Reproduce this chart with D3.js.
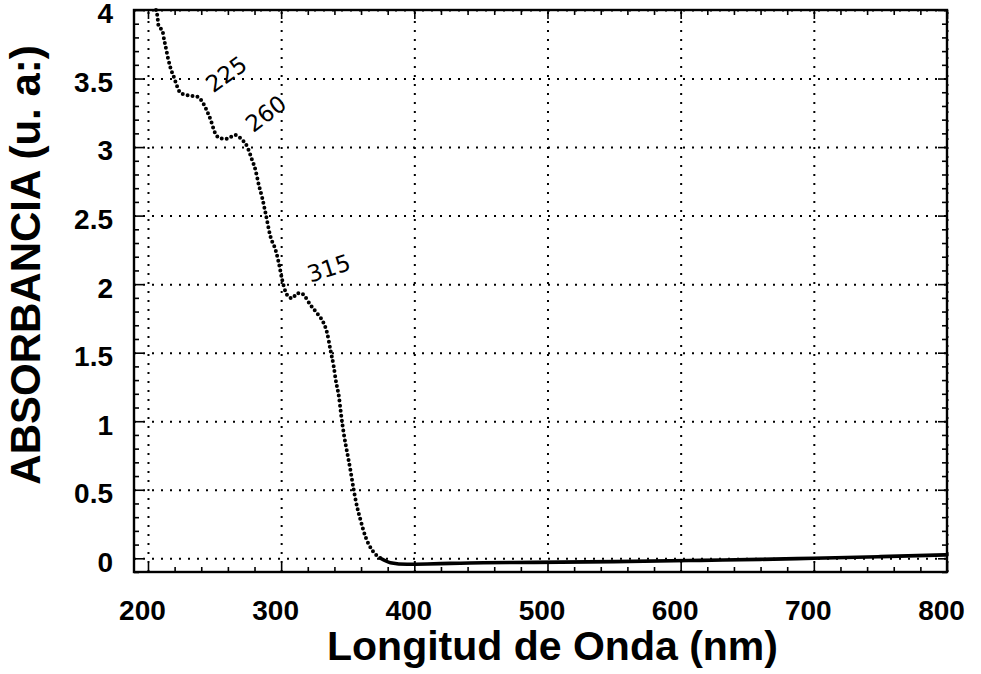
<!DOCTYPE html>
<html>
<head>
<meta charset="utf-8">
<script src="https://cdn.jsdelivr.net/npm/d3@7"></script>
<style>
  body { margin: 0; background: #fff; }
  .tick text { font-family: "Liberation Sans", Arial, sans-serif; font-weight: bold; }
</style>
</head>
<body>
<svg id="chart" width="981" height="674"></svg>
<script>
// spectrum (nm, a.u.)
var wavelength = [206, 207, 208, 210.8, 212, 213.5, 215, 217, 219.5, 222, 224, 227, 232, 237, 240.5, 244, 247, 250.5,
  254, 259, 265.5, 270.5, 274.5, 278, 280.8, 283.3, 285.8, 288.3, 292, 295.8, 298.3, 300.8, 303.3, 306, 308.3, 312,
  315, 317, 322, 327, 332, 334.6, 337, 339.5, 341, 343.5, 345, 347, 349.6, 352, 354.5, 357, 359.6, 363.3, 368.3,
  374.6, 382, 394.6, 409.6, 427, 452, 490, 550, 615, 660, 700, 750, 800];
var absorbance = [4.0, 3.96, 3.88, 3.85, 3.79, 3.72, 3.65, 3.575, 3.51, 3.44, 3.40, 3.385, 3.375, 3.368, 3.335, 3.27, 3.20, 3.10,
  3.065, 3.06, 3.088, 3.055, 3.003, 2.91, 2.83, 2.72, 2.63, 2.517, 2.346, 2.249, 2.152, 2.03, 1.945, 1.905, 1.897, 1.933,
  1.935, 1.921, 1.848, 1.787, 1.714, 1.641, 1.52, 1.398, 1.30, 1.17, 1.05, 0.91, 0.77, 0.644, 0.498, 0.376, 0.279, 0.158, 0.06,
  0.0, -0.032, -0.044, -0.042, -0.037, -0.032, -0.03, -0.024, -0.015, -0.008, 0.0, 0.012, 0.025];

var xTicks = [200, 300, 400, 500, 600, 700, 800];
var yTicks = [0, 0.5, 1, 1.5, 2, 2.5, 3, 3.5, 4];

var peakLabels = ["225", "260", "315"];
var peakX = [249, 279, 322];
var peakY = [3.39, 3.10, 2.01];

var cfg = {
  left: 134, right: 947, top: 10, bottom: 572,
  xMin: 189.5, xMax: 800, yMin: -0.1, yMax: 4,
  dotsUntil: 375,
  peakAngle: [-36, -37, -18]
};

var svg = d3.select("#chart");
var x = d3.scaleLinear().domain([cfg.xMin, cfg.xMax]).range([cfg.left, cfg.right]);
var y = d3.scaleLinear().domain([cfg.yMin, cfg.yMax]).range([cfg.bottom, cfg.top]);
var plotW = cfg.right - cfg.left, plotH = cfg.bottom - cfg.top;

// dotted grid
function dotted(g){
  g.select(".domain").remove();
  g.selectAll("line").attr("stroke", "#000").attr("stroke-width", 2).attr("stroke-dasharray", "2 7");
}
svg.append("g")
  .attr("transform", "translate(0," + cfg.bottom + ")")
  .call(d3.axisBottom(x).tickValues(xTicks).tickSize(-plotH).tickFormat(""))
  .call(dotted);
svg.append("g")
  .attr("transform", "translate(" + cfg.left + ",0)")
  .call(d3.axisLeft(y).tickValues(yTicks).tickSize(-plotW).tickFormat(""))
  .call(dotted);

// inward ticks on all four sides, longer at the labelled values
var xMinor = d3.range(200, 801, 20);
var yMinor = d3.range(-0.1, 4.001, 0.1).map(function(v){ return Math.round(v * 10) / 10; });
function addTicks(axis, tr, vals, majorTest){
  var g = svg.append("g").attr("transform", tr)
    .call(axis.tickValues(vals).tickSize(-5).tickFormat(""));
  g.select(".domain").remove();
  g.selectAll(".tick line").attr("stroke", "#000").attr("stroke-width", 1.6);
  g.selectAll(".tick").filter(majorTest).select("line")
    .each(function(){
      var l = d3.select(this);
      ["x2", "y2"].forEach(function(k){ var v = +l.attr(k); if (v) l.attr(k, v * 1.8); });
    });
}
var xMajor = function(d){ return d % 100 === 0; };
var yMajor = function(d){ return Math.abs(d * 2 - Math.round(d * 2)) < 1e-6; };
addTicks(d3.axisBottom(x), "translate(0," + cfg.bottom + ")", xMinor, xMajor);
addTicks(d3.axisTop(x), "translate(0," + cfg.top + ")", xMinor, xMajor);
addTicks(d3.axisLeft(y), "translate(" + cfg.left + ",0)", yMinor, yMajor);
addTicks(d3.axisRight(y), "translate(" + cfg.right + ",0)", yMinor, yMajor);

// tick labels
svg.append("g")
  .attr("transform", "translate(0," + cfg.bottom + ")")
  .call(d3.axisBottom(x).tickValues(xTicks).tickSize(0).tickPadding(28).tickFormat(d3.format("d")))
  .call(function(g){
    g.select(".domain").remove();
    g.selectAll("text").attr("font-size", 28).attr("fill", "#000").attr("dx", -6);
  });
svg.append("g")
  .attr("transform", "translate(" + cfg.left + ",0)")
  .call(d3.axisLeft(y).tickValues(yTicks).tickSize(0).tickPadding(21).tickFormat(function(d){ return String(d); }))
  .call(function(g){
    g.select(".domain").remove();
    g.selectAll("text").attr("font-size", 28).attr("fill", "#000").attr("dy", "0.46em");
  });

// frame
svg.append("rect")
  .attr("x", cfg.left).attr("y", cfg.top)
  .attr("width", plotW).attr("height", plotH)
  .attr("fill", "none").attr("stroke", "#000").attr("stroke-width", 2.4);

// spectrum: sparse points on the steep part look like dots, dense part like a solid line
var pts = wavelength.map(function(w, i){ return [w, absorbance[i]]; });
var line = d3.line()
  .x(function(d){ return x(d[0]); })
  .y(function(d){ return y(d[1]); })
  .curve(d3.curveMonotoneX);

svg.append("path")
  .datum(pts.filter(function(d){ return d[0] <= cfg.dotsUntil; }))
  .attr("d", line)
  .attr("fill", "none").attr("stroke", "#000")
  .attr("stroke-width", 4).attr("stroke-linecap", "round")
  .attr("stroke-dasharray", "0 5");

svg.append("path")
  .datum(pts.filter(function(d){ return d[0] >= cfg.dotsUntil - 1; }))
  .attr("d", line)
  .attr("fill", "none").attr("stroke", "#000")
  .attr("stroke-width", 3.6).attr("stroke-linecap", "round");

// peak annotations
svg.selectAll(".peak")
  .data(peakLabels)
  .enter()
  .append("text")
  .attr("class", "peak")
  .attr("transform", function(d, i){
    return "translate(" + x(peakX[i]) + "," + y(peakY[i]) + ") rotate(" + cfg.peakAngle[i] + ")";
  })
  .attr("font-family", "'DejaVu Sans', sans-serif")
  .attr("font-size", 23)
  .attr("fill", "#000")
  .text(function(d){ return d; });

// axis titles
svg.append("text")
  .attr("x", (cfg.left + cfg.right) / 2 + 12)
  .attr("y", 660)
  .attr("text-anchor", "middle")
  .attr("font-family", "'Liberation Sans', Arial, sans-serif")
  .attr("font-weight", "bold")
  .attr("font-size", 41)
  .text("Longitud de Onda (nm)");

svg.append("text")
  .attr("transform", "translate(40,265) rotate(-90)")
  .attr("text-anchor", "middle")
  .attr("font-family", "'Liberation Sans', Arial, sans-serif")
  .attr("font-weight", "bold")
  .attr("font-size", 42)
  .text("ABSORBANCIA (u. a:)");
</script>
</body>
</html>
